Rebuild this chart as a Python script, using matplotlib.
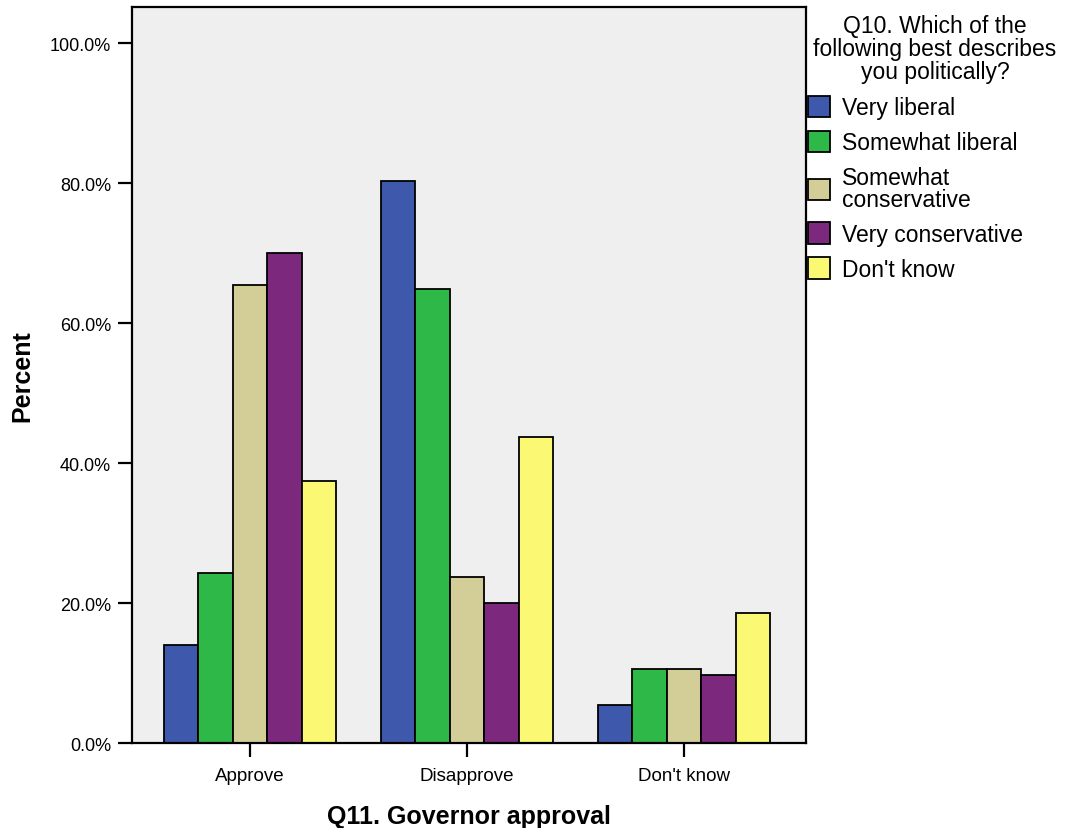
import numpy as np
import matplotlib.pyplot as plt

plt.rcParams['font.family'] = ['Liberation Sans', 'DejaVu Sans']

categories = ["Approve", "Disapprove", "Don't know"]
groups = ["Very liberal", "Somewhat liberal", "Somewhat\nconservative",
          "Very conservative", "Don't know"]
very_liberal = [14.0, 80.3, 5.4]
somewhat_liberal = [24.3, 64.9, 10.6]
somewhat_conservative = [65.4, 23.7, 10.6]
very_conservative = [70.0, 20.0, 9.7]
dont_know = [37.4, 43.7, 18.6]
colors = ['#3E58AC', '#2EB848', '#D3CE97', '#7B287D', '#FBF873']

series = [very_liberal, somewhat_liberal, somewhat_conservative,
          very_conservative, dont_know]

fig = plt.figure(figsize=(10.65, 8.29), dpi=100)
ax = fig.add_axes([0.1239, 0.1025, 0.6329, 0.8878])
ax.set_facecolor('#EFEFEF')

x = np.arange(len(categories))
w = 0.1585
for i, vals in enumerate(series):
    ax.bar(x + (i - 2) * w, vals, width=w, color=colors[i],
           edgecolor='black', linewidth=1.3, label=groups[i], zorder=2)

ax.set_xlim(-0.544, 2.562)
ax.set_ylim(0, 105.14)
ax.set_yticks([0, 20, 40, 60, 80, 100])
ax.set_yticklabels(['0.0%', '20.0%', '40.0%', '60.0%', '80.0%', '100.0%'])
ax.set_xticks(x)
ax.set_xticklabels(categories)
ax.tick_params(axis='both', direction='out', length=10, width=1.6,
               labelsize=13.5, color='black')
ax.tick_params(axis='y', pad=5, labelsize=13)
ax.tick_params(axis='x', pad=7.5)
for s in ax.spines.values():
    s.set_linewidth(1.6)
    s.set_color('black')

ax.set_ylabel('Percent', fontsize=18, fontweight='bold', labelpad=11)
ax.set_xlabel('Q11. Governor approval', fontsize=18, fontweight='bold',
              labelpad=14)

fig.text(935 / 1065, 1 - 15 / 829,
         'Q10. Which of the\nfollowing best describes\nyou politically?',
         ha='center', va='top', fontsize=16.5, multialignment='center',
         linespacing=1.0)

leg = ax.legend(loc='upper left', bbox_to_anchor=(808 / 1065, 1 - 97 / 829),
                bbox_transform=fig.transFigure, frameon=False, fontsize=16.5,
                handlelength=0.95, handleheight=1.05, handletextpad=0.55,
                labelspacing=0.5, borderpad=0, borderaxespad=0)
for t in leg.get_texts():
    t.set_linespacing(0.95)

fig.savefig('out.png', dpi=100)
